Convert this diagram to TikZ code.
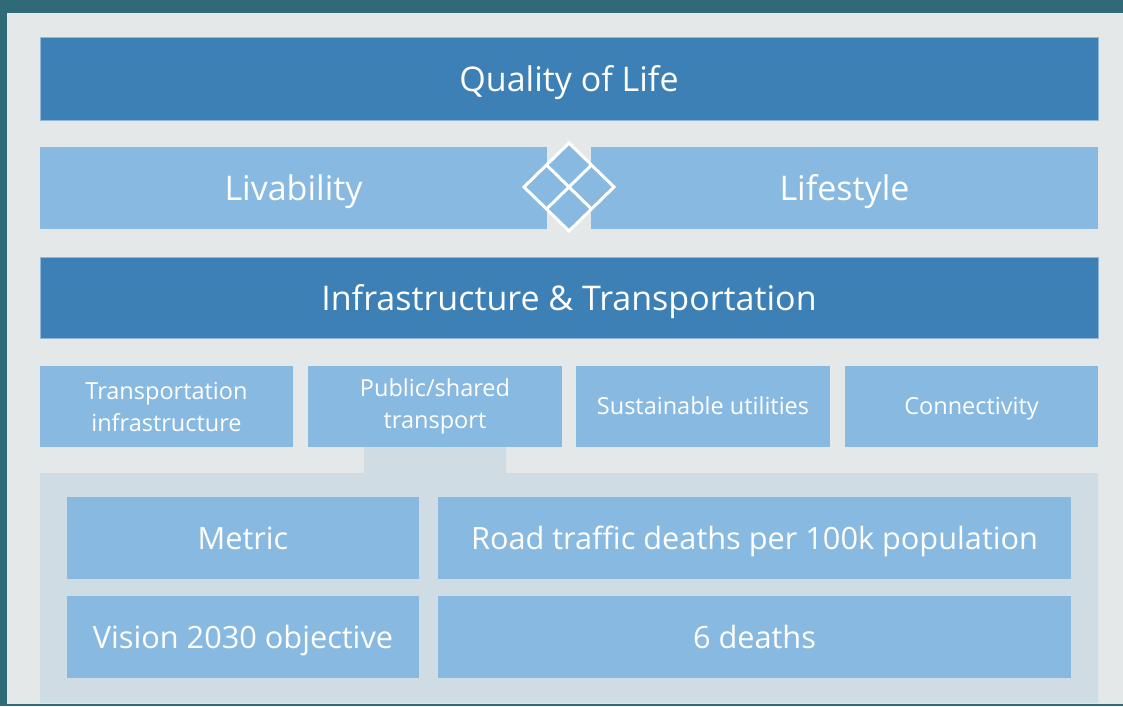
\documentclass[tikz,border=0pt]{standalone}
\usepackage{fontspec}
\setmainfont{Open Sans}
\definecolor{teal}{HTML}{2F6A78}
\definecolor{panel}{HTML}{E4E8E9}
\definecolor{lower}{HTML}{D0DCE4}
\definecolor{darkblue}{HTML}{3C80B5}
\definecolor{lightblue}{HTML}{88B9E0}
\definecolor{edgeblue}{HTML}{8DB8DA}
\tikzset{
  darkbox/.style={fill=darkblue, draw=edgeblue, line width=0.8pt, text=white, inner sep=0pt},
  lightbox/.style={fill=lightblue, draw=none, text=white, inner sep=0pt},
  bigtext/.style={font=\fontsize{34}{40}\selectfont, text height=34pt, text depth=8.2pt},
  midtext/.style={font=\fontsize{30.7}{36}\selectfont, text height=31pt, text depth=7.4pt},
  smalltext/.style={font=\fontsize{23.5}{32}\selectfont},
  twoline/.style={align=center},
  oneline/.style={text height=21.6pt, text depth=5.6pt},
}
\begin{document}
\begin{tikzpicture}[x=1pt, y=-1pt]
  % backdrop and page panel
  \fill[teal] (0,0) rectangle (1123,706);
  \fill[panel] (7,13) rectangle (1123,704);
  \useasboundingbox (0,0) rectangle (1123,706);

  % shaded detail area with tab under the second topic box
  \fill[lower] (40,473) -- (364,473) -- (364,447) -- (506,447) -- (506,473)
    -- (1098,473) -- (1098,703) -- (40,703) -- cycle;

  % top levels
  \node[darkbox, bigtext, minimum width=1058pt, minimum height=83pt] (qol) at (569,78.5) {Quality of Life};
  \node[lightbox, bigtext, minimum width=507pt, minimum height=82pt] (liv) at (293.5,188) {Livability};
  \node[lightbox, bigtext, minimum width=507pt, minimum height=82pt] (life) at (844.5,188) {Lifestyle};
  \node[darkbox, bigtext, minimum width=1058pt, minimum height=81pt] (infra) at (569,297.5) {Infrastructure \& Transportation};

  % linking diamond between the two pillars
  \fill[lightblue] (524,187) -- (569,143) -- (614,187) -- (569,231) -- cycle;
  \draw[white, line width=3pt, line join=miter]
    (524,187) -- (569,143) -- (614,187) -- (569,231) -- cycle;
  \draw[white, line width=3pt] (546.5,165) -- (591.5,209);
  \draw[white, line width=3pt] (591.5,165) -- (546.5,209);

  % topic boxes
  \node[lightbox, smalltext, twoline, minimum width=253pt, minimum height=81pt] (t1) at (166.5,406.5) {Transportation\\infrastructure};
  \node[lightbox, smalltext, twoline, minimum width=254pt, minimum height=81pt] (t2) at (435,406.5) {Public/shared\\transport};
  \node[lightbox, smalltext, oneline, minimum width=254pt, minimum height=81pt] (t3) at (703,406.5) {Sustainable utilities};
  \node[lightbox, smalltext, oneline, minimum width=253pt, minimum height=81pt] (t4) at (971.5,406.5) {Connectivity};

  % detail table
  \node[lightbox, midtext, minimum width=352pt, minimum height=82pt] (m1) at (243,538) {Metric};
  \node[lightbox, midtext, minimum width=633pt, minimum height=82pt] (m2) at (754.5,538) {Road traffic deaths per 100k population};
  \node[lightbox, midtext, minimum width=352pt, minimum height=82pt] (v1) at (243,636.5) {Vision 2030 objective};
  \node[lightbox, midtext, minimum width=633pt, minimum height=82pt] (v2) at (754.5,636.5) {6 deaths};
\end{tikzpicture}
\end{document}
